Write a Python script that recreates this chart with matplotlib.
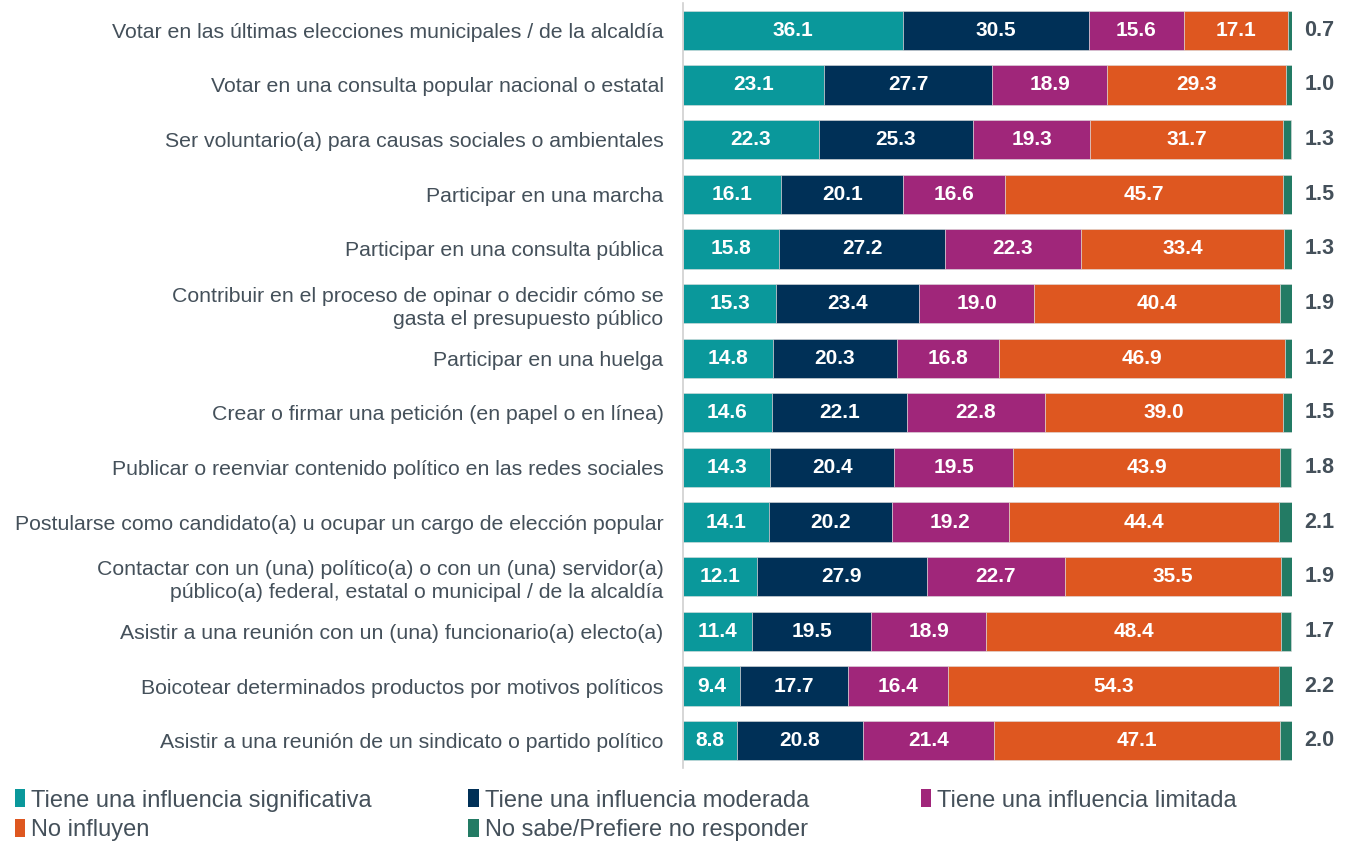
import numpy as np
import matplotlib.pyplot as plt
from matplotlib.patches import Patch

plt.rcParams["font.family"] = ["Liberation Sans", "DejaVu Sans"]

# data
labels = [
    "Votar en las últimas elecciones municipales / de la alcaldía",
    "Votar en una consulta popular nacional o estatal",
    "Ser voluntario(a) para causas sociales o ambientales",
    "Participar en una marcha",
    "Participar en una consulta pública",
    "Contribuir en el proceso de opinar o decidir cómo se\ngasta el presupuesto público",
    "Participar en una huelga",
    "Crear o firmar una petición (en papel o en línea)",
    "Publicar o reenviar contenido político en las redes sociales",
    "Postularse como candidato(a) u ocupar un cargo de elección popular",
    "Contactar con un (una) político(a) o con un (una) servidor(a)\npúblico(a) federal, estatal o municipal / de la alcaldía",
    "Asistir a una reunión con un (una) funcionario(a) electo(a)",
    "Boicotear determinados productos por motivos políticos",
    "Asistir a una reunión de un sindicato o partido político",
]
significativa = [36.1, 23.1, 22.3, 16.1, 15.8, 15.3, 14.8, 14.6, 14.3, 14.1, 12.1, 11.4, 9.4, 8.8]
moderada = [30.5, 27.7, 25.3, 20.1, 27.2, 23.4, 20.3, 22.1, 20.4, 20.2, 27.9, 19.5, 17.7, 20.8]
limitada = [15.6, 18.9, 19.3, 16.6, 22.3, 19.0, 16.8, 22.8, 19.5, 19.2, 22.7, 18.9, 16.4, 21.4]
no_influyen = [17.1, 29.3, 31.7, 45.7, 33.4, 40.4, 46.9, 39.0, 43.9, 44.4, 35.5, 48.4, 54.3, 47.1]
no_sabe = [0.7, 1.0, 1.3, 1.5, 1.3, 1.9, 1.2, 1.5, 1.8, 2.1, 1.9, 1.7, 2.2, 2.0]

series = [
    ("Tiene una influencia significativa", significativa, "#0A989B"),
    ("Tiene una influencia moderada", moderada, "#003057"),
    ("Tiene una influencia limitada", limitada, "#A0267A"),
    ("No influyen", no_influyen, "#DE5720"),
    ("No sabe/Prefiere no responder", no_sabe, "#237B64"),
]
text_gray = "#44505A"

fig = plt.figure(figsize=(13.5, 8.44), dpi=100)
ax = fig.add_axes([683 / 1350, 1 - 768 / 844, 609 / 1350, 765 / 844])

y = np.arange(len(labels))
left = np.zeros(len(labels))
for i, (name, vals, color) in enumerate(series):
    vals = np.array(vals)
    ax.barh(y, vals, left=left, height=0.72, color=color,
            edgecolor="#dddddd", linewidth=0.4, label=name)
    if i < 4:
        for yy, l, v in zip(y, left, vals):
            ax.text(l + v / 2, yy, f"{v:.1f}", ha="center", va="center",
                    color="white", fontsize=15, fontweight="bold")
    else:
        for yy, v in zip(y, vals):
            ax.annotate(f"{v:.1f}", (100, yy), xytext=(9, 0),
                        textcoords="offset points", ha="left", va="center",
                        color=text_gray, fontsize=15.5, fontweight="bold")
    left = left + vals

ax.set_xlim(0, 100)
ax.set_ylim(len(labels) - 0.5, -0.5)
ax.set_yticks(y)
ax.set_yticklabels(labels, fontsize=15.3, color=text_gray, linespacing=1.3)
ax.tick_params(axis="y", length=0, pad=14)
ax.set_xticks([])
for s in ["top", "right", "bottom"]:
    ax.spines[s].set_visible(False)
ax.spines["left"].set_color("#d0d0d0")
ax.spines["left"].set_linewidth(1.2)

# legend, laid out row by row in three columns
cols = [[0, 3], [1, 4], [2]]
xs = [0.004, 0.34, 0.675]
for xpos, idxs in zip(xs, cols):
    handles = [Patch(facecolor=series[k][2], label=series[k][0]) for k in idxs]
    fig.legend(handles=handles, loc="upper left", bbox_to_anchor=(xpos, 0.076),
               frameon=False, fontsize=17, handlelength=0.45, handleheight=0.8,
               handletextpad=0.25, labelspacing=0.32, borderaxespad=0,
               labelcolor=text_gray)

fig.savefig("out.png", dpi=100)
